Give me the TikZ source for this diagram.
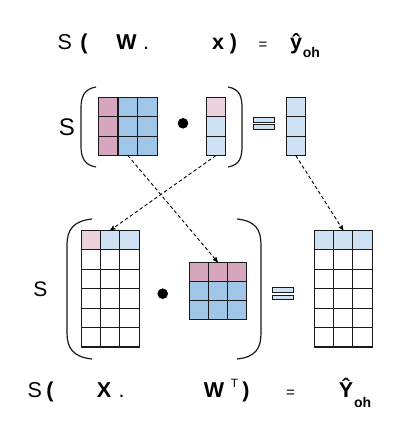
\documentclass[tikz,border=0pt]{standalone}
\usepackage{fontspec}
\setmainfont{Liberation Sans}
\usetikzlibrary{arrows,positioning}
\definecolor{pinkc}{HTML}{D5A6BD}
\definecolor{bluec}{HTML}{9FC5E8}
\definecolor{lpinkc}{HTML}{EAD1DC}
\definecolor{lbluec}{HTML}{CFE2F3}
\definecolor{edgec}{HTML}{1A1A1A}
\tikzset{
    %Define standard arrow tip
    >=stealth',
    %Define style for matrix cells
    cell/.style={
           rectangle,
           draw=edgec, line width=1.1pt,
           inner sep=0pt, outer sep=0pt,
           anchor=north west},
    %Define style for the bars of the equal sign
    bar/.style={
           rectangle,
           draw=edgec, line width=1pt,
           fill=lbluec,
           inner sep=0pt,
           minimum width=21pt,
           minimum height=4.6pt},
    % Define text styles
    txt/.style={
           anchor=base,
           inner sep=0pt,
           font=\fontsize{21.5}{25}\selectfont},
    btxt/.style={
           txt,
           font=\fontsize{21.5}{25}\selectfont\bfseries},
    sub/.style={
           anchor=base west,
           inner sep=0pt,
           font=\fontsize{14}{16}\selectfont\bfseries},
    % Define style for the brackets
    paren/.style={
           draw=edgec,
           line width=1.2pt},
    % Define arrow style
    link/.style={
           ->,
           dash pattern=on 3.5pt off 2.5pt,
           line width=0.9pt},
}
\begin{document}
\begin{tikzpicture}[x=1pt, y=-1pt]
    \useasboundingbox[fill=white] (0,0) rectangle (403,442);
 %top formula
    \node[txt] (s1) at (64.7,49) {S};
    \node[btxt] (lp1) at (84,49) {(};
    \node[btxt] (w1) at (126.5,49) {W};
    \node[txt] (d1) at (146,49) {.};
    \node[btxt] (x1) at (218,49) {x};
    \node[btxt] (rp1) at (233.5,49) {)};
    \node[txt, font=\fontsize{15}{18}\selectfont] (eq1) at (263,49) {=};
    \node[btxt] (yh) at (296,49) {ŷ};
    \node[sub, right=0.5pt of yh.base east, anchor=base west, yshift=-8pt] (yoh) {oh};
 %top matrices
    \node[txt, anchor=center, font=\fontsize{24}{28}\selectfont] (s2) at (67,127) {S};
    \foreach \r in {1,2,3}
      \foreach \c/\col in {1/pinkc,2/bluec,3/bluec}
        \node[cell, fill=\col, minimum width=19.7pt, minimum height=19.4pt]
          (W-\r-\c) at ({98.3+(\c-1)*19.7},{97.3+(\r-1)*19.4}) {};
    \node[circle, fill=black, inner sep=0pt, minimum size=10.6pt] (dot1) at (183,123.3) {};
    \foreach \r/\col in {1/lpinkc,2/lbluec,3/lbluec}
      \node[cell, fill=\col, minimum width=18.6pt, minimum height=19.4pt]
        (xv-\r) at (206.7,{97.3+(\r-1)*19.4}) {};
    \node[bar] (eqa) at (263.8,119.8) {};
    \node[bar, below=1.7pt of eqa] (eqb) {};
    \foreach \r in {1,2,3}
      \node[cell, fill=lbluec, minimum width=19pt, minimum height=19.4pt]
        (yv-\r) at (286.3,{97.3+(\r-1)*19.4}) {};
    \draw[paren] (96,87) .. controls (84,89) and (81,97) .. (81,108) -- (81,146)
                 .. controls (81,157) and (84,165) .. (96,167);
    \draw[paren] (228,87) .. controls (240,89) and (242,97) .. (242,108) -- (242,146)
                 .. controls (242,157) and (240,165) .. (228,167);
 %bottom matrices
    \node[txt, anchor=center, font=\fontsize{21}{25}\selectfont] (s3) at (40.5,289) {S};
    \foreach \c/\col in {1/lpinkc,2/lbluec,3/lbluec}
      \node[cell, fill=\col, minimum width=19.3pt, minimum height=19.45pt]
        (X-1-\c) at ({81.3+(\c-1)*19.3},230.3) {};
    \foreach \r in {2,...,6}
      \foreach \c in {1,2,3}
        \node[cell, fill=white, minimum width=19.3pt, minimum height=19.45pt]
          (X-\r-\c) at ({81.3+(\c-1)*19.3},{230.3+(\r-1)*19.45}) {};
    \node[circle, fill=black, inner sep=0pt, minimum size=10.6pt] (dot2) at (162.7,293.7) {};
    \foreach \r/\col in {1/pinkc,2/bluec,3/bluec}
      \foreach \c in {1,2,3}
        \node[cell, fill=\col, minimum width=19pt, minimum height=19.2pt]
          (WT-\r-\c) at ({189.3+(\c-1)*19},{262.3+(\r-1)*19.2}) {};
    \node[bar] (eqc) at (282.5,289.8) {};
    \node[bar, below=2pt of eqc] (eqd) {};
    \foreach \c in {1,2,3}
      \node[cell, fill=lbluec, minimum width=19.3pt, minimum height=19.45pt]
        (Y-1-\c) at ({314.3+(\c-1)*19.3},230.3) {};
    \foreach \r in {2,...,6}
      \foreach \c in {1,2,3}
        \node[cell, fill=white, minimum width=19.3pt, minimum height=19.45pt]
          (Y-\r-\c) at ({314.3+(\c-1)*19.3},{230.3+(\r-1)*19.45}) {};
    \draw[paren] (92,219) .. controls (73,221) and (67,230) .. (67,245) -- (67,333)
                 .. controls (67,348) and (73,357) .. (92,359);
    \draw[paren] (237,219) .. controls (256,221) and (261,230) .. (261,245) -- (261,333)
                 .. controls (261,348) and (256,357) .. (237,359);
 %bottom formula
    \node[txt] (s4) at (34.7,397) {S};
    \node[btxt] (lp2) at (50,397) {(};
    \node[btxt] (xb) at (104,397) {X};
    \node[txt] (d2) at (121.7,397) {.};
    \node[btxt] (wb) at (214,397) {W};
    \node[txt, font=\fontsize{12}{14}\selectfont] (tb) at (234.5,387) {T};
    \node[btxt] (rp2) at (246,397) {)};
    \node[txt, font=\fontsize{15}{18}\selectfont] (eq2) at (290.5,397) {=};
    \node[btxt] (Yh) at (346,397) {Ŷ};
    \node[sub, right=0.5pt of Yh.base east, anchor=base west, yshift=-10pt] (Yoh) {oh};
 %edges
    \draw[link] (W-3-2.south) -- (WT-1-2.north);
    \draw[link] (xv-3.south) -- (X-1-2.north);
    \draw[link] (yv-3.south) -- (Y-1-2.north);
\end{tikzpicture}
\end{document}
